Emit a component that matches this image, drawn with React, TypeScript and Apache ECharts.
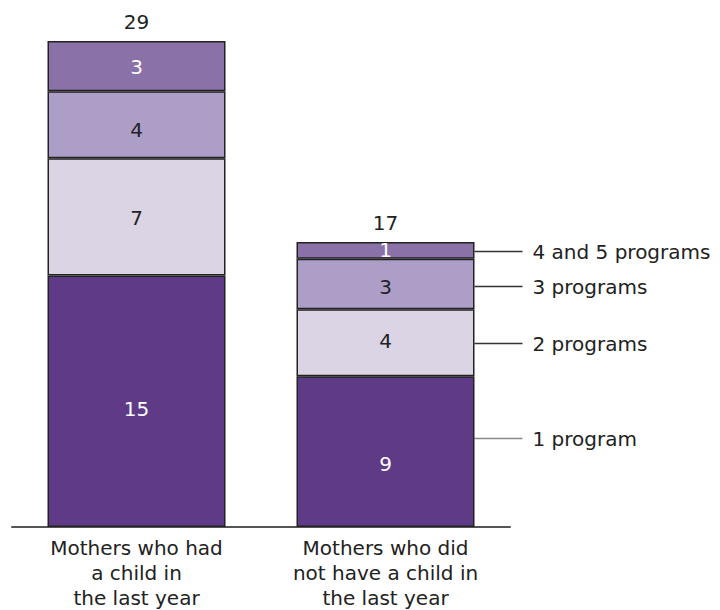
import React, { useEffect, useRef } from "react";
import * as echarts from "echarts";

const categories = ["Mothers who had\na child in\nthe last year", "Mothers who did\nnot have a child in\nthe last year"];
const seriesNames = ["1 program", "2 programs", "3 programs", "4 and 5 programs"];
const oneProgram = [15, 9];
const twoPrograms = [7, 4];
const threePrograms = [4, 3];
const fourFivePrograms = [3, 1];
// where each right-hand legend line points, in axis units on the second bar
const legendAnchors = [5.3, 11, 14.4, 16.45];

const colors = ["#5e3a87", "#dbd4e5", "#ad9ec8", "#8a71a7"];
const labelColors = ["#ffffff", "#222222", "#222222", "#ffffff"];
// vertical nudges of the in-bar value labels (pixels), per series then per bar
const labelNudges = [[8, 12], [1, -2], [5, 3], [1, 0]];
const FONT = "DejaVu Sans";
const FS = 20;

export default function App() {
  const ref = useRef<HTMLDivElement>(null);
  useEffect(() => {
    if (!ref.current) return;
    const chart = echarts.init(ref.current, null, { renderer: "svg" });
    const values = [oneProgram, twoPrograms, threePrograms, fourFivePrograms];
    const totals = categories.map((_, i) => values.reduce((s, v) => s + v[i], 0));
    const series: any[] = values.map((v, k) => ({
      name: seriesNames[k],
      type: "bar",
      stack: "total",
      barWidth: 178,
      data: v.map((val, i) => ({
        value: val,
        label: { offset: [0, labelNudges[k][i]] },
      })),
      itemStyle: { color: colors[k], borderColor: "#222", borderWidth: 1.5 },
      label: {
        show: true,
        position: "inside",
        color: labelColors[k],
        fontFamily: FONT,
        fontSize: FS,
      },
    }));
    series.push({
      name: "total",
      type: "bar",
      stack: "total",
      barWidth: 178,
      data: totals.map(() => 0),
      itemStyle: { color: "transparent", borderWidth: 0 },
      label: {
        show: true,
        position: "top",
        distance: 9,
        color: "#222",
        fontFamily: FONT,
        fontSize: FS,
        formatter: (p: any) => String(totals[p.dataIndex]),
      },
    });
    chart.setOption({
      animation: false,
      grid: { left: 12, right: 210, top: 41, bottom: 82 },
      xAxis: {
        type: "category",
        data: categories,
        axisLine: { lineStyle: { color: "#555", width: 2 } },
        axisTick: { show: false },
        axisLabel: {
          color: "#222",
          fontFamily: FONT,
          fontSize: FS,
          lineHeight: 25,
          margin: 8,
          interval: 0,
        },
      },
      yAxis: {
        type: "value",
        min: 0,
        max: 29,
        show: false,
        splitLine: { show: false },
      },
      series,
    });
    const graphics: any[] = [];
    legendAnchors.forEach((v, k) => {
      const p = chart.convertToPixel({ gridIndex: 0 } as any, [1, v]) as number[];
      const right = p[0] + 89;
      const y = Math.round(p[1]) + 0.5;
      graphics.push({
        type: "line",
        shape: { x1: right, y1: y, x2: right + 48, y2: y },
        style: { stroke: k === 0 ? "#888" : "#333", lineWidth: 1.5 },
      });
      graphics.push({
        type: "text",
        x: right + 58,
        y: y,
        style: {
          text: seriesNames[k],
          fill: "#222",
          font: `${FS}px "${FONT}"`,
          verticalAlign: "middle",
        },
      });
    });
    chart.setOption({ graphic: graphics });
    return () => chart.dispose();
  }, []);
  return (
    <div
      ref={ref}
      style={{ position: "absolute", left: 0, top: 0, width: 720, height: 610 }}
    />
  );
}
